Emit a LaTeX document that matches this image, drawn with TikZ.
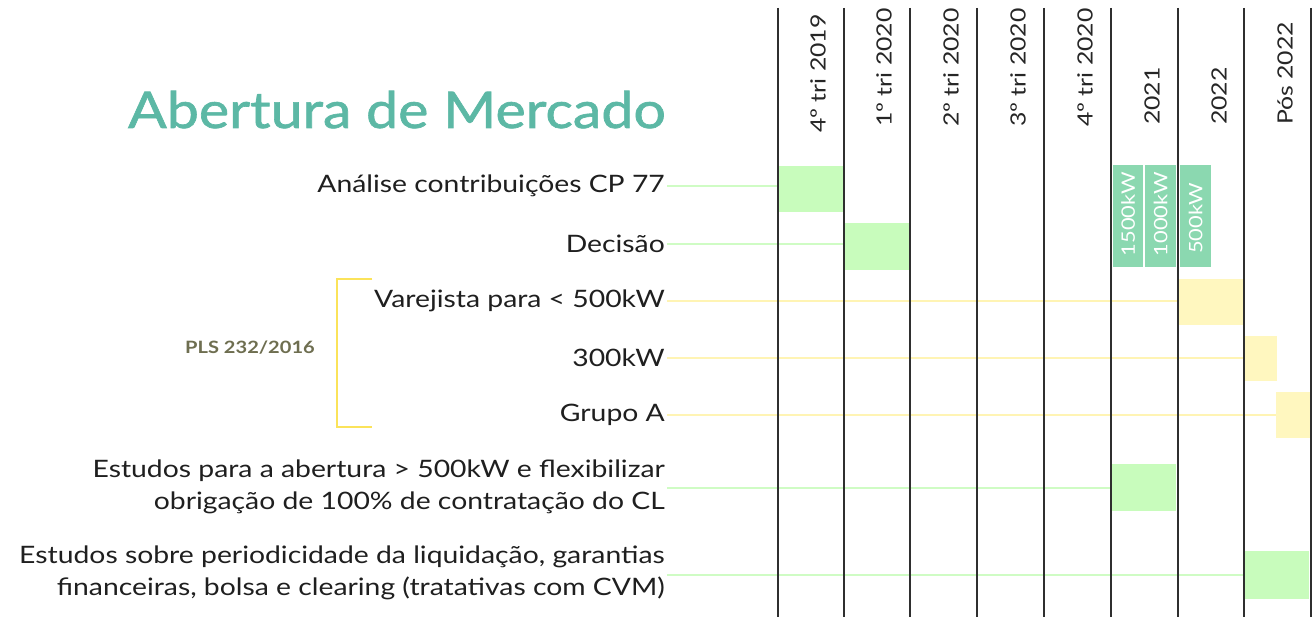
\documentclass[tikz,border=0pt]{standalone}
\usepackage{fontspec}
\setmainfont{Lato}[FakeStretch=1.18]
\newfontfamily\titlefont{Lato}[FakeStretch=1.135, FakeBold=1.3]
\definecolor{titleteal}{HTML}{5CB8A5}
\definecolor{boxgreen}{HTML}{C8FCBC}
\definecolor{linegreen}{HTML}{CFFCC4}
\definecolor{boxyellow}{HTML}{FFF7BF}
\definecolor{lineyellow}{HTML}{FFF4B4}
\definecolor{brackyellow}{HTML}{FBE35A}
\definecolor{mint}{HTML}{8BD8B0}
\definecolor{plsgray}{HTML}{6E6E50}
\definecolor{gridline}{HTML}{2F2F2F}
\begin{document}
\begin{tikzpicture}[x=1pt,y=-1pt,
  lbl/.style={anchor=east, inner sep=0pt, align=right, text=black!88, font=\fontsize{24}{32}\selectfont},
  hdr/.style={rotate=90, anchor=west, inner sep=0pt, text=black!85, font=\fontsize{21}{21}\selectfont},
  gbox/.style={fill=boxgreen, draw=none, anchor=north west, inner sep=0pt},
  ybox/.style={fill=boxyellow, draw=none, anchor=north west, inner sep=0pt},
  mbox/.style={fill=mint, draw=none, anchor=north west, inner sep=0pt, minimum width=30, minimum height=102},
  mtxt/.style={rotate=90, text=white, inner sep=0pt, font=\fontsize{18.5}{18.5}\selectfont},
  gline/.style={draw=linegreen, line width=2pt},
  yline/.style={draw=lineyellow, line width=2pt},
  grid/.style={draw=gridline, line width=1.3pt}]
\useasboundingbox (0,0) rectangle (1315,617);
\fill[white] (0,0) rectangle (1315,617);

% title
\node[anchor=base east, inner sep=0pt, text=titleteal, font=\titlefont\fontsize{50.5}{50.5}\selectfont] (title) at (666,128) {Abertura de Mercado};

% row labels
\node[lbl] (l1) at (665,186) {Análise contribuições CP 77};
\node[lbl] (l2) at (665,244) {Decisão};
\node[lbl] (l3) at (665,301) {Varejista para < 500kW};
\node[lbl] (l4) at (665,358) {300kW};
\node[lbl] (l5) at (665,415) {Grupo A};
\node[lbl] (l6) at (665,487) {Estudos para a abertura > 500kW e flexibilizar\\obrigação de 100\% de contratação do CL};
\node[lbl] (l7) at (665,573) {Estudos sobre periodicidade da liquidação, garantias\\financeiras, bolsa e clearing (tratativas com CVM)};

% bracket and PLS label
\draw[draw=brackyellow, line width=2pt] (372,279) -- (337,279) -- (337,427) -- (372,427);
\node[inner sep=0pt, text=plsgray, font=\bfseries\fontsize{17}{17}\selectfont] (pls) at (250,348) {PLS 232/2016};

% boxes
\node[gbox, minimum width=65, minimum height=46] (b1) at (778,166) {};
\node[gbox, minimum width=66, minimum height=47] (b2) at (844,223) {};
\node[ybox, minimum width=66, minimum height=46] (b3) at (1178,279) {};
\node[ybox, minimum width=32, minimum height=45] (b4) at (1245,336) {};
\node[ybox, minimum width=35, minimum height=46] (b5) at (1276,392) {};
\node[gbox, minimum width=64, minimum height=47] (b6) at (1112,464) {};
\node[gbox, minimum width=64, minimum height=48] (b7) at (1245,551) {};

% connectors
\draw[gline] ([xshift=2pt]l1.east) -- (l1.east -| b1.west);
\draw[gline] ([xshift=2pt]l2.east) -- (l2.east -| b2.west);
\draw[yline] ([xshift=2pt]l3.east) -- (l3.east -| b3.west);
\draw[yline] ([xshift=2pt]l4.east) -- (l4.east -| b4.west);
\draw[yline] ([xshift=2pt]l5.east) -- (l5.east -| b5.west);
\draw[gline] ([xshift=2pt,yshift=-1pt]l6.east) -- ([yshift=-1pt]l6.east -| b6.west);
\draw[gline] ([xshift=2pt,yshift=-2pt]l7.east) -- ([yshift=-2pt]l7.east -| b7.west);

% mint boxes
\node[mbox] (m1) at (1113,165) {};
\node[mbox, minimum width=31] (m2) at (1145,165) {};
\node[mbox, minimum width=31] (m3) at (1180,165) {};
\node[mtxt] at ([yshift=2pt]m1.center) {1500kW};
\node[mtxt] at ([yshift=2pt]m2.center) {1000kW};
\node[mtxt] at ([yshift=-2pt]m3.center) {500kW};

% grid lines
\foreach \x in {778,844,910,977,1044,1111,1178,1244,1311}
  \draw[grid] (\x,8) -- (\x,617);

% headers
\node[hdr] (h1) at (818,133) {4º tri 2019};
\node[hdr] (h2) at (884,127) {1º tri 2020};
\node[hdr] (h3) at (951,127) {2º tri 2020};
\node[hdr] (h4) at (1018,127) {3º tri 2020};
\node[hdr] (h5) at (1085,127) {4º tri 2020};
\node[hdr] (h6) at (1152,125) {2021};
\node[hdr] (h7) at (1219,125) {2022};
\node[hdr] (h8) at (1285,125) {Pós 2022};
\end{tikzpicture}
\end{document}
